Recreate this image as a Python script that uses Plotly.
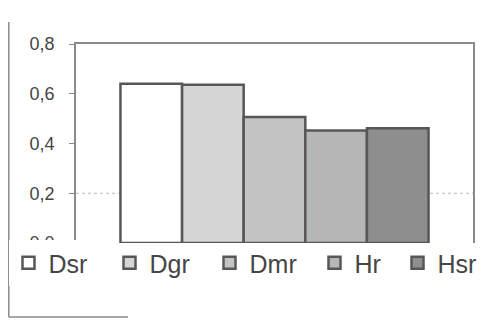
import plotly.graph_objects as go

series = ["Dsr", "Dgr", "Dmr", "Hr", "Hsr"]
values = [0.64, 0.636, 0.507, 0.452, 0.461]
category = [""]
y_ticks = [0, 0.2, 0.4, 0.6, 0.8]
grid_value = 0.2

fills = ["#ffffff", "#d6d6d6", "#c3c3c3", "#b6b6b6", "#8e8e8e"]
outline = "#5a5656"

# the page body adds an 8px offset, so the figure is laid out 8px smaller
OFF = 8
W, H = 487 - 2 * OFF, 321 - OFF
ML, MT = 76 - OFF, 44 - OFF
MR = W - (473 - OFF)
MB = H - (243 - OFF)
PW = W - ML - MR
PH = H - MT - MB
PB = H - MB  # figure y of the plot bottom

# legend swatch centres on screen (one legend box per series)
swatch_px = [28, 129, 229, 334, 417]
legend_keys = ["legend", "legend2", "legend3", "legend4", "legend5"]

fig = go.Figure()
for name, v, c, lk in zip(series, values, fills, legend_keys):
    fig.add_trace(go.Bar(
        x=category, y=[v], name=name, legend=lk,
        marker=dict(color=c, line=dict(color=outline, width=2.5)),
    ))

fig.add_shape(type="line", xref="paper", yref="y", x0=0, x1=1,
              y0=grid_value, y1=grid_value, layer="below",
              line=dict(color="#bbbbbb", width=1, dash="dot"))
# outer chart frame (left and partial bottom visible in scan)
fx = (0.8 - ML) / PW
fy = (PB - (317 - OFF)) / PH
fig.add_shape(type="line", xref="paper", yref="paper", x0=fx, x1=fx,
              y0=fy, y1=(PB - (22 - OFF)) / PH, line=dict(color="#8a8a8a", width=1.5))
fig.add_shape(type="line", xref="paper", yref="paper", x0=fx, x1=(128 - OFF - ML) / PW,
              y0=fy, y1=fy, line=dict(color="#8a8a8a", width=1.5))

legend_y = (PB - (240 - OFF)) / PH
legends = {}
for i, (lk, sp) in enumerate(zip(legend_keys, swatch_px)):
    legends[lk] = dict(
        orientation="h", x=(sp - 27.5 - ML) / PW, xanchor="left",
        y=legend_y, yanchor="top",
        bgcolor="white" if i == 0 else "rgba(0,0,0,0)",
        font=dict(size=25, color="#454545"), itemclick=False,
    )

fig.update_layout(
    width=W, height=H,
    margin=dict(l=ML, r=MR, t=MT, b=MB, autoexpand=False),
    paper_bgcolor="white", plot_bgcolor="white",
    barmode="group", bargap=0.224, bargroupgap=0,
    separators=",.",
    font=dict(family="Liberation Sans, Arial, sans-serif", color="#454545"),
    showlegend=True,
    yaxis=dict(range=[0, 0.8], tickvals=y_ticks, tickformat=".1f",
               showgrid=False, zeroline=False, showline=True, mirror=True,
               linecolor="#8a8a8a", linewidth=1.5, ticks="outside",
               ticklen=5, tickcolor="#8a8a8a", automargin=False,
               ticklabelstandoff=11,
               tickfont=dict(size=18, color="#454545")),
    xaxis=dict(showticklabels=False, showgrid=False, zeroline=False, side="top",
               showline=True, mirror=False, linecolor="#8a8a8a", linewidth=1.5,
               automargin=False),
    **legends,
)

fig.write_html("out.html")
